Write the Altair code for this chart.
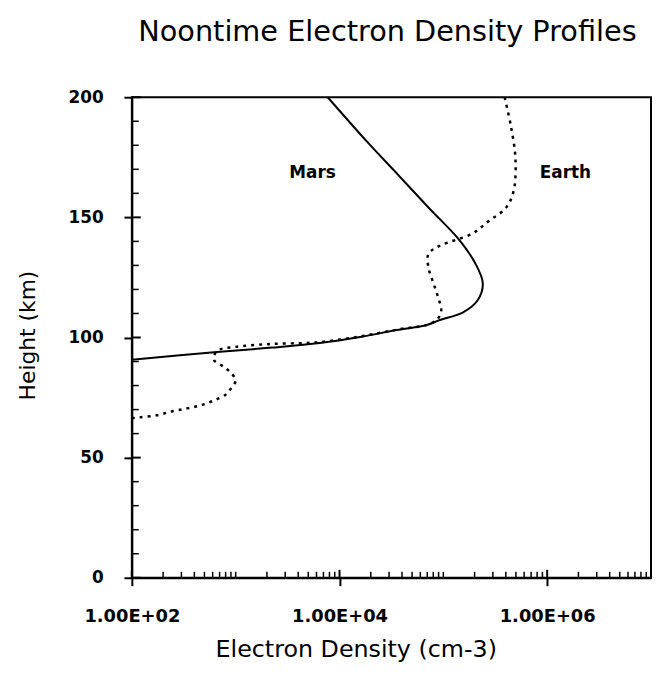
import altair as alt
import pandas as pd

# ---- data ----
mars_density = [1.0e2, 6.6e2, 2.24e3, 6.46e3, 1.58e4, 3.55e4, 6.92e4, 9.12e4, 1.55e5,
                2.14e5, 2.40e5, 2.04e5, 1.41e5, 7.3e4, 3.65e4, 1.85e4, 7.7e3]
mars_height = [90.7, 94.0, 95.8, 97.7, 100.2, 103.1, 105.2, 107.2, 110.5,
               115.5, 122.5, 130.7, 140.8, 153.8, 167.8, 181.4, 200.0]

earth_density = [1.0e2, 1.19e2, 1.73e2, 2.45e2, 3.41e2, 4.65e2, 6.17e2, 8.04e2, 9.16e2,
                 1.0e3, 8.95e2, 7.69e2, 6.17e2, 6.61e2, 1.0e3, 2.15e3, 4.65e3, 6.59e3,
                 1.66e4, 3.72e4, 7.24e4, 8.91e4, 9.55e4, 8.91e4, 8.04e4, 7.19e4, 7.19e4,
                 9.16e4, 1.91e5, 2.74e5, 3.98e5, 4.74e5, 4.95e5, 4.45e5, 3.89e5]
earth_height = [66.4, 66.8, 67.6, 69.3, 70.5, 71.8, 73.8, 76.3, 79.2,
                82.1, 85.4, 87.8, 90.7, 94.4, 96.1, 97.3, 97.7, 98.1,
                100.6, 103.4, 105.5, 108.0, 111.3, 116.7, 122.5, 129.1, 134.8,
                138.1, 143.3, 148.5, 153.8, 160.8, 174.4, 188.5, 200.0]

label_text = ["Mars", "Earth"]
label_density = [5.5e3, 1.5e6]
label_height = [168.5, 168.5]

x_major = [1e2, 1e4, 1e6]
x_minor = [m * 10 ** k for k in range(2, 7) for m in range(2, 11)
           if m * 10 ** k not in (1e4, 1e6, 1e7)]
y_major = [0, 50, 100, 150, 200]
y_minor = [h for h in range(10, 200, 10) if h % 50 != 0]

W, H = 524, 485
FONT = "DejaVu Sans"

df_mars = pd.DataFrame({"density": mars_density, "height": mars_height})
df_earth = pd.DataFrame({"density": earth_density, "height": earth_height})
df_labels = pd.DataFrame({"density": label_density, "height": label_height, "label": label_text})
df_xmaj = pd.DataFrame({"density": x_major})
df_xmin = pd.DataFrame({"density": x_minor})
df_ymaj = pd.DataFrame({"height": y_major})
df_ymin = pd.DataFrame({"height": y_minor})

xs = alt.Scale(type="log", domain=[1e2, 1e7], nice=False)
ys = alt.Scale(domain=[0, 200], nice=False, zero=False)

common = dict(grid=False, domainColor="black", domainWidth=2, tickColor="black",
              tickWidth=2, labelColor="black", titleColor="black", labelFont=FONT,
              labelFontWeight="bold", titleFont=FONT, titleFontWeight="normal",
              labelFlush=False, labelOverlap=False, tickSize=8,
              titleAlign="center", titleBaseline="middle")

xaxis = alt.Axis(values=x_major, labelExpr="'1.00E+0' + round(log(datum.value) / LN10)",
                 title="Electron Density (cm-3)", labelPadding=22, labelFontSize=18,
                 titleX=226, titleY=72, titleFontSize=24, **common)
yaxis = alt.Axis(values=y_major, title="Height (km)", labelPadding=21, labelFontSize=17,
                 titleX=-105, titleY=240, titleFontSize=22, **common)

X = alt.X("density:Q", scale=xs, axis=xaxis)
Y = alt.Y("height:Q", scale=ys, axis=yaxis)

mars = alt.Chart(df_mars).mark_line(color="black", strokeWidth=2,
                                    interpolate="catmull-rom").encode(
    x=X, y=Y, order="height:Q")
earth = alt.Chart(df_earth).mark_line(color="black", strokeWidth=2.5,
                                      strokeDash=[3, 5],
                                      interpolate="catmull-rom").encode(
    x=X, y=Y, order="height:Q")

xmaj_in = alt.Chart(df_xmaj).mark_rule(color="black", strokeWidth=2).encode(
    x=X, y=alt.value(H), y2=alt.value(H - 8))
xmin_in = alt.Chart(df_xmin).mark_rule(color="black", strokeWidth=1.5).encode(
    x=X, y=alt.value(H), y2=alt.value(H - 6))
ymaj_in = alt.Chart(df_ymaj).mark_rule(color="black", strokeWidth=2).encode(
    y=Y, x=alt.value(0), x2=alt.value(9))
ymin_in = alt.Chart(df_ymin).mark_rule(color="black", strokeWidth=1.5).encode(
    y=Y, x=alt.value(0), x2=alt.value(7))

labels = alt.Chart(df_labels).mark_text(font=FONT, fontWeight="bold", fontSize=17,
                                        color="black").encode(
    x=X, y=Y, text="label:N")

chart = alt.layer(mars, earth, xmaj_in, xmin_in, ymaj_in, ymin_in, labels).properties(
    width=W, height=H,
    background="white",
    autosize=alt.AutoSizeParams(type="none"),
    padding={"left": 125, "top": 87, "right": 1, "bottom": 86},
    title=alt.TitleParams("Noontime Electron Density Profiles", font=FONT, fontSize=29,
                          fontWeight="normal", anchor="middle", offset=42, dx=-4,
                          color="black"),
).configure_view(stroke="black", strokeWidth=2)

chart.save("out.html", embed_options={"renderer": "svg", "actions": False})
